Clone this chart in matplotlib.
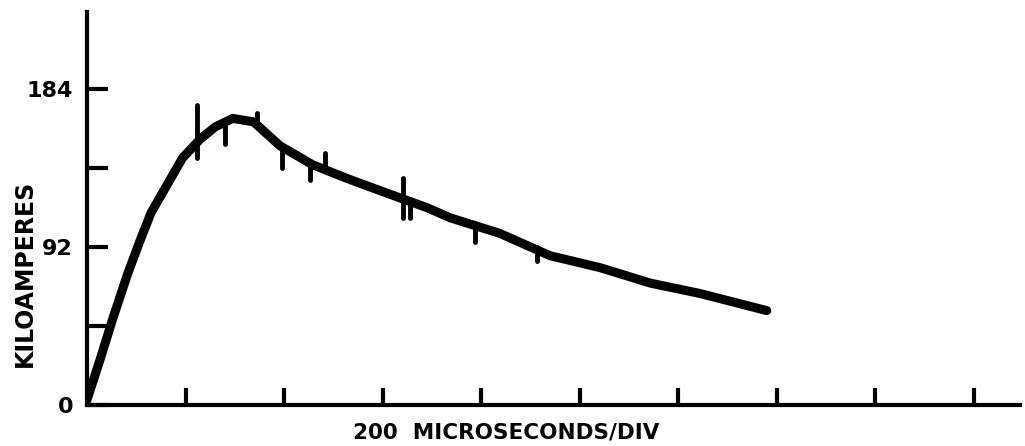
import matplotlib.pyplot as plt

# time in divisions (200 us/div), current in kA
t_div = [0.0, 0.13, 0.26, 0.41, 0.54, 0.65, 0.81, 0.97, 1.15, 1.30, 1.48, 1.69,
         1.96, 2.29, 2.64, 2.97, 3.45, 3.69, 4.19, 4.70, 5.21, 5.72, 6.22, 6.56, 6.90]
current = [3, 26, 50, 76, 96, 112, 128, 144, 155, 162, 167, 165,
           151, 140, 132, 125, 115, 109, 100, 87, 80, 71, 65, 60, 55]

# noise glitches on the trace
spike_x = [1.12, 1.40, 1.73, 1.98, 2.26, 2.42, 3.21, 3.28, 3.94, 4.57]
spike_lo = [144, 152, 162, 138, 131, 140, 109, 109, 95, 84]
spike_hi = [175, 165, 170, 150, 142, 147, 132, 120, 106, 92]

y_ticks = [0, 46, 92, 138, 184]
y_labels = ['0', '', '92', '', '184']
x_ticks = list(range(1, 10))

fig = plt.figure(figsize=(10.25, 4.46), dpi=100)
ax = fig.add_axes([87 / 1025, 41 / 446, (1020 - 87) / 1025, (405 - 12) / 446])

ax.plot(t_div, current, color='black', linewidth=6.5, solid_capstyle='round', solid_joinstyle='round')
ax.vlines(spike_x, spike_lo, spike_hi, color='black', linewidth=3.5, capstyle='round')

ax.set_xlim(0, 9.47)
ax.set_ylim(0, 229)
ax.spines['top'].set_visible(False)
ax.spines['right'].set_visible(False)
ax.spines['left'].set_linewidth(3)
ax.spines['bottom'].set_linewidth(3)

ax.set_yticks(y_ticks)
ax.set_yticklabels(y_labels, fontsize=16, fontweight='bold')
ax.set_xticks(x_ticks)
ax.set_xticklabels([])
ax.tick_params(axis='y', direction='in', length=15, width=3, pad=10)
ax.tick_params(axis='x', direction='in', length=12, width=3)

fig.text(25 / 1025, 1 - 273 / 446, 'KILOAMPERES', rotation=90, ha='center', va='center',
         fontsize=17, fontweight='bold')
fig.text(506 / 1025, 1 - 432 / 446, '200  MICROSECONDS/DIV', ha='center', va='center',
         fontsize=15.5, fontweight='bold')

fig.savefig('out.png', dpi=100)
